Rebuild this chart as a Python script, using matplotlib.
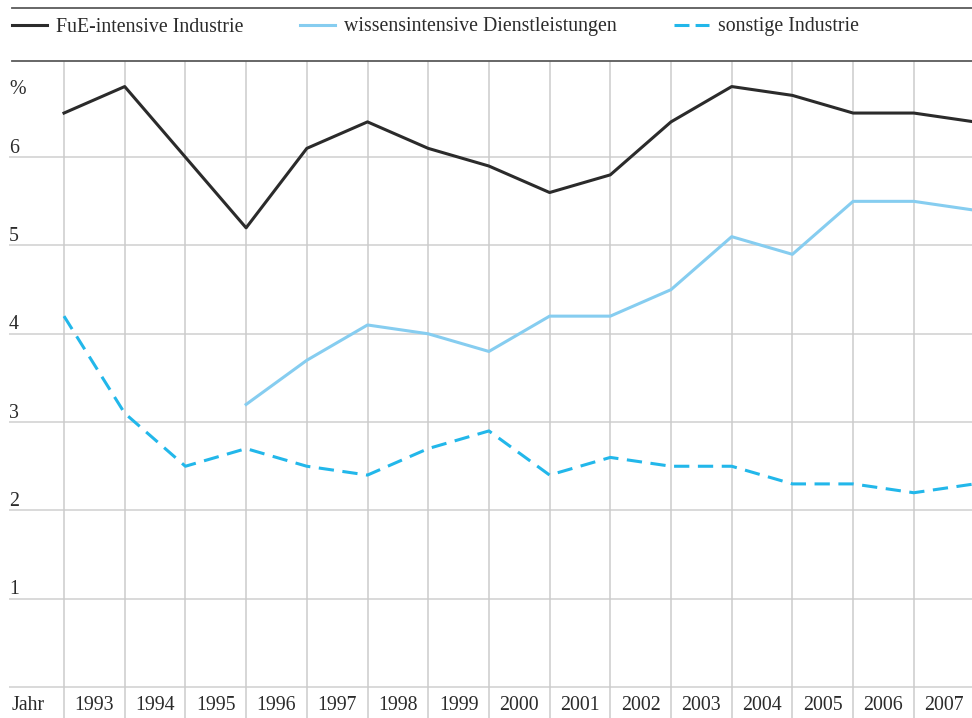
import numpy as np
import matplotlib
matplotlib.use('Agg')
import matplotlib.pyplot as plt
from matplotlib.lines import Line2D

plt.rcParams['font.family'] = ['Liberation Serif', 'DejaVu Serif']

# data (16 points, on the grid lines)
years = ['1993', '1994', '1995', '1996', '1997', '1998', '1999', '2000',
         '2001', '2002', '2003', '2004', '2005', '2006', '2007']
fue_industrie = [6.5, 6.8, 6.0, 5.2, 6.1, 6.4, 6.1, 5.9, 5.6, 5.8, 6.4, 6.8, 6.7, 6.5, 6.5, 6.4]
wissen_dienst = [np.nan, np.nan, np.nan, 3.2, 3.7, 4.1, 4.0, 3.8, 4.2, 4.2, 4.5, 5.1, 4.9, 5.5, 5.5, 5.4]
sonstige_industrie = [4.2, 3.1, 2.5, 2.7, 2.5, 2.4, 2.7, 2.9, 2.4, 2.6, 2.5, 2.5, 2.3, 2.3, 2.2, 2.3]
y_ticks = [0, 1, 2, 3, 4, 5, 6]

W, H = 972, 718
fig = plt.figure(figsize=(W / 100, H / 100), dpi=100)

# axes covers the whole width, top at pixel 61
top_px = 61
ax = fig.add_axes([0, 0, 1, (H - top_px) / H])

# pixel -> data mapping
x0_px, dx_px = 64, 60.7
y0_px, dy_px = 687, 88.3
ax.set_xlim((0 - x0_px) / dx_px, (W - x0_px) / dx_px)
ax.set_ylim((y0_px - H) / dy_px, (y0_px - top_px) / dy_px)
ax.axis('off')

def px_x(p):
    return (p - x0_px) / dx_px

fs = 14.3
text_col = '#2b2b2b'

# grid
for v in y_ticks:
    ax.axhline(v, xmin=10 / W, xmax=1, color='#d9d9d9', lw=1.4, zorder=1)
for i in range(len(years)):
    ax.axvline(i, ymin=0, ymax=1, color='#cbcbcb', lw=1.1, zorder=1)
ax.axhline(ax.get_ylim()[1], xmin=12 / W, xmax=1, color='#5a5a5a', lw=1.3,
           clip_on=False, zorder=2)

x = np.arange(len(fue_industrie))
ax.plot(x, fue_industrie, color='#2b2b2b', lw=2.2, zorder=3, clip_on=False)
ax.plot(x, wissen_dienst, color='#86cdf0', lw=2.2, zorder=3, clip_on=False)
ax.plot(x, sonstige_industrie, color='#22b7ea', lw=2.2, dashes=(5, 2.8),
        zorder=3, clip_on=False)

# y labels sit above the grid lines
for v in y_ticks[1:]:
    ax.text(px_x(9), v - 0.005, str(v), ha='left', va='bottom',
            fontsize=fs, color=text_col)
ax.text(px_x(9), 6.66, '%', ha='left', va='bottom', fontsize=fs, color=text_col)

# year labels between grid lines
ylab = (y0_px - 705) / dy_px
for i, yr in enumerate(years):
    ax.text(i + 0.5, ylab, yr, ha='center', va='center', fontsize=fs, color=text_col)
ax.text(px_x(12), ylab, 'Jahr', ha='left', va='center', fontsize=fs, color=text_col)

# legend strip on top
fig.add_artist(Line2D([12 / W, 1], [1 - 8 / H, 1 - 8 / H], color='#5a5a5a', lw=1.3))
handles = [
    Line2D([], [], color='#2b2b2b', lw=2.2),
    Line2D([], [], color='#86cdf0', lw=2.2),
    Line2D([], [], color='#22b7ea', lw=2.2, dashes=(4.9, 2.0)),
]
labels = ['FuE-intensive Industrie', 'wissensintensive Dienstleistungen', 'sonstige Industrie']
fig.legend(handles, labels, loc='center left', bbox_to_anchor=(12 / W, 1 - 27 / H),
           ncol=3, frameon=False, fontsize=fs, handlelength=1.76, handletextpad=0.45,
           columnspacing=2.87, borderaxespad=0, borderpad=0, labelcolor=text_col)

fig.savefig('out.png', dpi=100)
